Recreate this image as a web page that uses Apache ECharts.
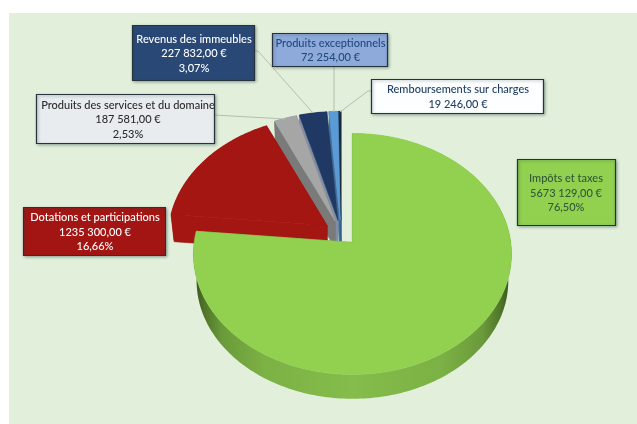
<!DOCTYPE html>
<html>
<head>
<meta charset="utf-8">
<style>html,body{margin:0;padding:0;background:#fff}#chart{width:637px;height:424px}</style>
<script src="https://cdn.jsdelivr.net/npm/echarts@6/dist/echarts.min.js"></script>
</head>
<body>
<div id="chart"></div>
<script>
// Budget revenue breakdown
const categories = ['Impôts et taxes', 'Dotations et participations', 'Produits des services et du domaine', 'Revenus des immeubles', 'Produits exceptionnels', 'Remboursements sur charges'];
const amounts = [5673129, 1235300, 187581, 227832, 72254, 19246];
const amountLabels = ['5673 129,00 €', '1235 300,00 €', '187 581,00 €', '227 832,00 €', '72 254,00 €', '19 246,00 €'];
const percentLabels = ['76,50%', '16,66%', '2,53%', '3,07%', '', ''];

// Slice colours: top face, cut faces, rim shading
const faceColors = ['#92d050', '#a41612', '#a6a6a6', '#1f3864', '#5b9bd5', '#1b2a3c'];
const wallColors = ['#6f9e3c', '#a41612', '#7a7a7a', '#7f8ea3', '#3d6f9e', '#111c28'];
const greenRim = [
  [0, '#36501c'], [0.035, '#4f7629'], [0.09, '#6a9a3a'], [0.22, '#7cb145'], [0.5, '#84bd4b'],
  [0.78, '#7cb145'], [0.91, '#6a9a3a'], [0.965, '#4f7629'], [1, '#36501c']
];
const rimFills = [
  { type: 'linear', x: 0, y: 0, x2: 1, y2: 0, colorStops: greenRim.map(s => ({ offset: s[0], color: s[1] })) },
  '#a41612', '#7a7a7a', '#14274a', '#3d6f9e', '#111c28'
];

// Label boxes
const boxLayout = [
  { x: 517, y: 159, w: 98, h: 66, fill: '#92d050', text: '#2f5a35', dx: 0 },
  { x: 23, y: 207, w: 142, h: 48, fill: '#a31513', text: '#ffffff', dx: 1 },
  { x: 36, y: 94, w: 178, h: 49, fill: '#e8ecef', text: '#2b2b2b', dx: 3 },
  { x: 132, y: 25, w: 122, h: 55, fill: '#2a4876', text: '#ffffff', dx: 1 },
  { x: 272, y: 33, w: 115, h: 33, fill: '#8eaadb', text: '#1f497d', dx: 1 },
  { x: 371, y: 79, w: 172, h: 34, fill: '#fdfeff', text: '#1f3f66', dx: 1 }
];
// Leader lines from box to slice
const leaders = [
  [[214, 115], [285, 119]],
  [[254, 51], [258, 51], [313, 113]],
  [[334, 66], [334, 112]],
  [[371, 91], [368, 91], [340, 112]]
];

// Perspective model of the pie disc
const pie = { cx: 341, cy: 233, f: 158.3, g: 119.4, k: 0.0955, explode: 17, drop: 27, shrink: 0.98 };
const total = amounts.reduce((a, b) => a + b, 0);

function project(t, r) {
  const d = 1 + pie.k * r * Math.cos(t);
  return [pie.f * r * Math.sin(t) / d, -pie.g * r * Math.cos(t) / d];
}

function renderSlice(params) {
  const i = params.dataIndex;
  let before = 0;
  for (let j = 0; j < i; j++) before += amounts[j];
  const a0 = before / total * Math.PI * 2;
  const a1 = (before + amounts[i]) / total * Math.PI * 2;
  const mid = (a0 + a1) / 2;
  const ox = pie.cx + pie.explode * Math.sin(mid);
  const oy = pie.cy - pie.explode * 0.75 * Math.cos(mid);
  const top = p => [ox + p[0], oy + p[1]];
  const low = p => [ox + p[0] * pie.shrink, oy + p[1] * pie.shrink + pie.drop];

  const steps = Math.max(3, Math.ceil((a1 - a0) / 0.02));
  const rim = [];
  for (let s = 0; s <= steps; s++) rim.push(project(a0 + (a1 - a0) * s / steps, 1));
  const centre = [0, 0];
  const rimTop = rim.map(top);
  const rimLow = rim.map(low).reverse();
  const first = rim[0], last = rim[rim.length - 1];
  const z = 10 * (categories.length - i);
  // Same-colour outline closes the hairline seam between adjoining faces
  const solid = c => ({ fill: c, stroke: c, lineWidth: 0.6 });

  return {
    type: 'group',
    children: [
      { type: 'polygon', z2: z, shape: { points: [top(centre), top(last), low(last), low(centre)] }, style: solid(wallColors[i]) },
      { type: 'polygon', z2: z + 1, shape: { points: rimTop.concat(rimLow) }, style: { fill: rimFills[i] } },
      { type: 'polygon', z2: z + 2, shape: { points: [top(centre), top(first), low(first), low(centre)] }, style: solid(wallColors[i]) },
      { type: 'polygon', z2: z + 3, shape: { points: [top(centre)].concat(rimTop) }, style: solid(faceColors[i]) }
    ]
  };
}

// Chart backdrop, leaders and label boxes
const graphicElements = [];
graphicElements.push({
  type: 'rect', z: -1, shape: { x: 9, y: 13, width: 628, height: 411 }, style: { fill: '#e2efda' }
});
leaders.forEach(points => graphicElements.push({
  type: 'polyline', z: 20, shape: { points }, style: { stroke: '#b4c0ac', lineWidth: 1, fill: null }
}));
categories.forEach((name, i) => {
  const b = boxLayout[i];
  const lines = [name, amountLabels[i]];
  if (percentLabels[i]) lines.push(percentLabels[i]);
  graphicElements.push({
    type: 'rect', z: 21, shape: { x: b.x + 0.5, y: b.y + 0.5, width: b.w, height: b.h },
    style: { fill: b.fill, stroke: '#26333d', lineWidth: 1.2, shadowColor: 'rgba(40,70,70,0.45)', shadowBlur: 3, shadowOffsetX: 1, shadowOffsetY: 1 }
  });
  graphicElements.push({
    type: 'text', z: 22, x: b.x + b.w / 2 + b.dx, y: b.y + b.h / 2 + 1,
    style: { text: lines.join('\n'), fill: b.text, font: '500 11px Lato, "Open Sans", sans-serif', lineHeight: 14.5, align: 'center', verticalAlign: 'middle' }
  });
});

const chart = echarts.init(document.getElementById('chart'), null, { renderer: 'canvas' });
chart.setOption({
  animation: false,
  backgroundColor: '#ffffff',
  graphic: graphicElements,
  series: [{
    type: 'custom',
    coordinateSystem: 'none',
    renderItem: renderSlice,
    data: amounts,
    silent: true
  }]
});
</script>
</body>
</html>
